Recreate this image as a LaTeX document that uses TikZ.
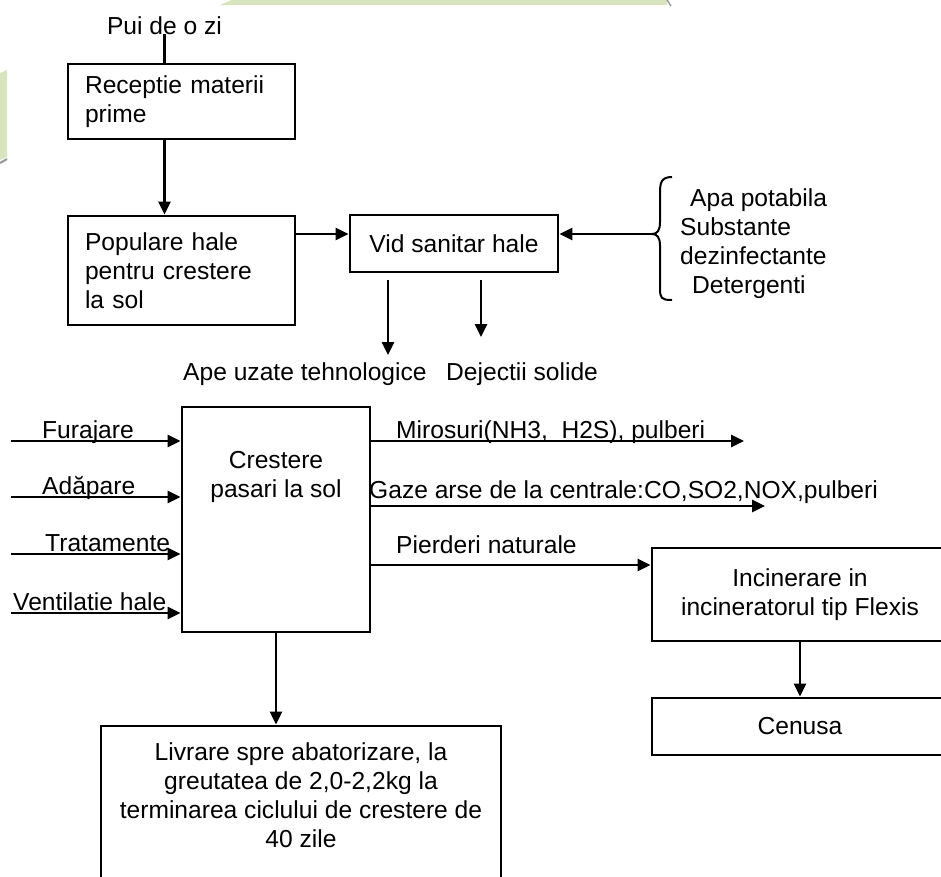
\documentclass[tikz,border=0pt]{standalone}
\usepackage{fontspec}
\setmainfont{Liberation Sans}
\usetikzlibrary{arrows.meta}
\definecolor{band}{RGB}{215,228,189}
\definecolor{bandedge}{RGB}{150,150,150}
\newcommand{\chartfont}{\fontsize{24.6}{29}\selectfont}
\tikzset{
  box/.style={draw, line width=2.8pt, inner sep=0pt, font=\chartfont, align=center},
  txt/.style={font=\chartfont, inner sep=0pt},
  flow/.style={-{Triangle[length=13pt, width=12pt]}, line width=2.8pt},
}

\begin{document}
\begin{tikzpicture}[x=1pt, y=-1pt]
  \useasboundingbox (0,0) rectangle (941,876);
  \clip (0,0) rectangle (941,876);

  % page decoration
  \fill[band] (220,5) -- (232,0) -- (667,0) -- (667,5) -- cycle;
  \draw[bandedge, line width=1.5pt] (667,0) -- (671,6);
  \fill[band] (0,73) -- (7,70) -- (7,157) -- (0,160) -- cycle;
  \draw[bandedge, line width=2pt] (0,163) -- (7,159);

  % intake and halls
  \node[txt, anchor=base] (pui) at (164.5,34) {Pui de o zi};
  \node[box, align=left, text width=193pt, inner xsep=17pt, minimum height=75pt] (rec) at (181.5,101.5) {Receptie materii\\prime};
  \node[box, align=left, text width=193pt, inner xsep=17pt, minimum height=109pt] (pop) at (181.5,270.5) {Populare hale\\pentru crestere\\la sol};
  \node[box, minimum width=208pt, minimum height=57pt] (vid) at (454,243.5) {Vid sanitar hale};
  \draw[line width=2.8pt] (pui.south) -- (pui.south |- rec.north);
  \draw[flow] (pui.south |- rec.south) -- (pui.south |- pop.north);

  % cleaning supplies
  \coordinate (brtip) at (652,234);
  \draw[flow] (pop.east |- brtip) -- (vid.west |- brtip);
  \draw[flow] (brtip) -- (vid.east |- brtip);
  \draw[line width=2pt] (672,177) .. controls (661,177) and (660,183) .. (660,193) -- (660,222)
    .. controls (660,231) and (657,234) .. (brtip) .. controls (657,234) and (660,237) .. (660,246)
    -- (660,288) .. controls (660,298) and (661,300) .. (672,300);
  \node[txt, align=left, anchor=north west] (supply) at (680,188)
    {\hspace*{10pt}Apa potabila\\Substante\\dezinfectante\\\hspace*{12pt}Detergenti};

  % waste from the halls
  \coordinate (w1) at (388,280);
  \coordinate (w1e) at (388,355);
  \coordinate (w2) at (481,280);
  \coordinate (w2e) at (481,337);
  \draw[flow] (w1) -- (w1e);
  \draw[flow] (w2) -- (w2e);
  \node[txt, anchor=base west] (ape) at (183,380) {Ape uzate tehnologice};
  \node[txt, anchor=base west] (dej) at (446,380) {Dejectii solide};

  % growing on the floor
  \node[box, minimum width=188pt, minimum height=225pt] (grow) at (276,519.5) {};
  \node[txt, align=center, anchor=north] (growt) at (276,451) {Crestere\\pasari la sol};
  \foreach \y/\x/\t [count=\i] in {441/42/Furajare, 497/42/Adăpare, 554/45/Tratamente, 613/13/Ventilatie hale} {
    \coordinate (in\i) at (11,\y);
    \draw[flow] (in\i) -- (in\i -| grow.west);
    \node[txt, anchor=base west] (inl\i) at (\x,\y-3) {\t};
  }

  % emissions and losses
  \coordinate (o1) at (744,441);
  \coordinate (o2) at (765,506);
  \coordinate (o3) at (652,565);
  \draw[flow] (grow.east |- o1) -- (o1);
  \draw[flow] (grow.east |- o2) -- (o2);
  \node[txt, anchor=base west] (miro) at (396,438) {Mirosuri(NH3,\ \ H2S), pulberi};
  \node[txt, anchor=base west] (gaze) at (369,498) {Gaze arse de la centrale:CO,SO2,NOX,pulberi};
  \node[txt, anchor=base west] (pier) at (396,553) {Pierderi naturale};

  \node[box, minimum width=296pt, minimum height=93pt] (inc) at (800,594.5) {Incinerare in\\incineratorul tip Flexis};
  \node[box, minimum width=296pt, minimum height=57pt] (cen) at (800,726.5) {Cenusa};
  \draw[flow] (grow.east |- o3) -- (o3 -| inc.west);
  \draw[flow] (inc) -- (cen);

  % delivery
  \node[box, minimum width=400pt, minimum height=184pt] (livr) at (301,818) {};
  \node[txt, align=center, anchor=north] (livrt) at (301,742) {Livrare spre abatorizare, la\\greutatea de 2,0-2,2kg la\\terminarea ciclului de crestere de\\40 zile};
  \draw[flow] (grow.south) -- (grow.south |- livr.north);
\end{tikzpicture}
\end{document}
